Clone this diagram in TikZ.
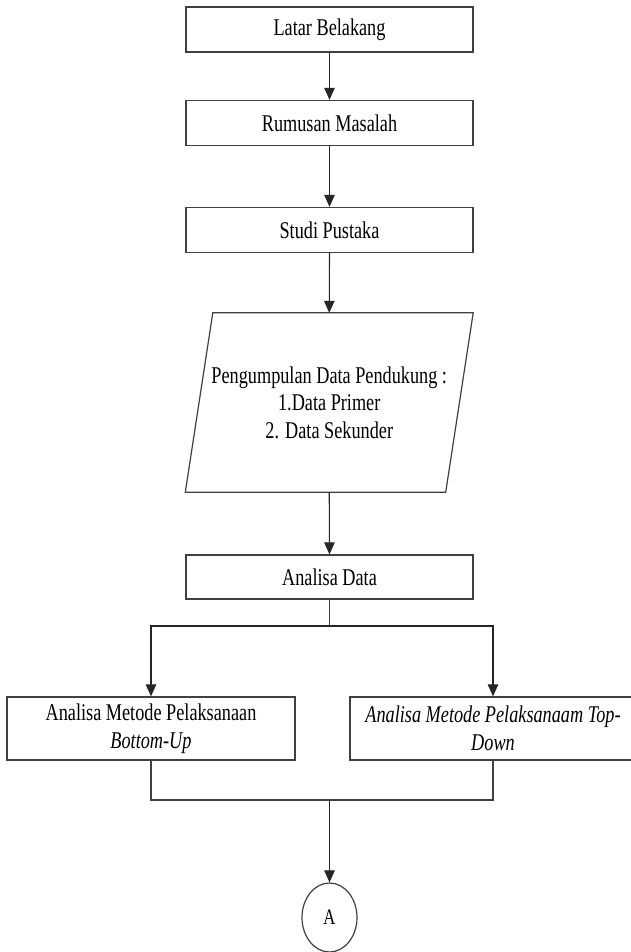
\documentclass[tikz,border=0pt]{standalone}
\usepackage{fontspec}
\setmainfont{Liberation Serif}[FakeStretch=0.76]
\usetikzlibrary{arrows.meta,shapes.geometric}
\begin{document}
\begin{tikzpicture}[x=1pt,y=-1pt,
  stepbox/.style={draw=black!75, line width=1.3pt, fill=white, minimum width=287pt,
    minimum height=45pt, inner sep=0pt, align=center, font=\fontsize{24}{27.5}\selectfont},
  tallbox/.style={stepbox, minimum height=63pt},
  conn/.style={draw=black!85, line width=1.1pt, -{Triangle[length=12pt,width=10.5pt]}},
  plain/.style={draw=black!75, line width=1.2pt},
  txt/.style={inner sep=0pt, align=center, font=\fontsize{24}{27.5}\selectfont}]
\clip (0,0) rectangle (631,952);
\fill[white] (0,0) rectangle (631,952);

\node[stepbox] (b1) at (329.5,29.5) {Latar Belakang};
\node[stepbox] (b2) at (329.5,123) {Rumusan Masalah};
\node[stepbox] (b3) at (329.5,230) {Studi Pustaka};

\node[txt, minimum width=260pt, minimum height=179pt] (pd) at (329.25,402.5)
  {Pengumpulan Data Pendukung :\\1.Data Primer\\2. Data Sekunder};
\draw[plain] ([xshift=13.75pt]pd.north west) -- ([xshift=13.75pt]pd.north east)
  -- ([xshift=-13.75pt]pd.south east) -- ([xshift=-13.75pt]pd.south west) -- cycle;

\node[stepbox, minimum height=44pt] (ad) at (329.5,577) {Analisa Data};

\node[tallbox, minimum width=288pt] (lb) at (151,728.5)
  {Analisa Metode Pelaksanaan\\\textit{Bottom-Up}};
\node[tallbox, minimum width=286pt] (rb) at (493,728.5)
  {\textit{Analisa Metode Pelaksanaam Top-}\\\textit{Down}};

\node[draw=black!75, line width=1.2pt, ellipse, minimum width=55pt, minimum height=69pt,
  inner sep=0pt, font=\fontsize{22}{24}\selectfont] (circ) at (329.5,917.5) {A};

\coordinate (split) at (329.5,626);
\coordinate (join) at (329.5,800);

\draw[conn] (b1.south) -- (b2.north);
\draw[conn] (b2.south) -- (b3.north);
\draw[conn] (b3.south) -- (pd.north);
\draw[conn] (pd.south) -- (ad.north);
\draw[plain] (ad.south) -- (split);
\draw[conn] (split) -| (lb.north);
\draw[conn] (split) -| (rb.north);
\draw[plain] (lb.south) |- (join);
\draw[plain] (rb.south) |- (join);
\draw[conn] (join) -- (circ.north);
\end{tikzpicture}
\end{document}
